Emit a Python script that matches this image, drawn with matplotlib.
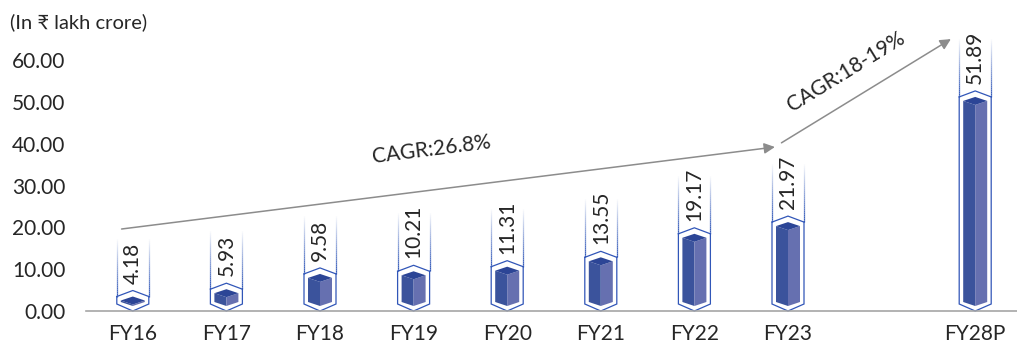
import numpy as np
import matplotlib.pyplot as plt
from matplotlib.patches import Polygon
from matplotlib.collections import LineCollection

years = ['FY16', 'FY17', 'FY18', 'FY19', 'FY20', 'FY21', 'FY22', 'FY23', 'FY28P']
values = [4.18, 5.93, 9.58, 10.21, 11.31, 13.55, 19.17, 21.97, 51.89]
slots = [0, 1, 2, 3, 4, 5, 6, 7, 9]   # one empty slot before the projection
cagr_text = ['CAGR:26.8%', 'CAGR:18-19%']

plt.rcParams['font.family'] = ['Lato', 'DejaVu Sans']
TXT = '#262626'
OUTLINE = '#3156b8'
LEFT = '#3b539c'
RIGHT = '#6670b0'
TOP = '#2c4596'

W, H = 1017, 345
fig = plt.figure(figsize=(W / 100, H / 100), dpi=100)
ax = fig.add_axes([86 / W, 34 / H, 936 / W, 251 / H])
ax.set_xlim(-0.5, 9.5)
ax.set_ylim(0, 60)

# pixel -> data unit helpers
sx = 10 / 936
sy = 60 / 251

for x, v in zip(slots, values):
    # outline capsule
    ohw = 16 * sx
    o_side = 7 * sy
    cap_apex = v + 3 * sy
    cap_side = v - 3 * sy
    ax.plot([x - ohw, x - ohw, x, x + ohw, x + ohw],
            [cap_side, o_side, 0, o_side, cap_side],
            color=OUTLINE, lw=0.9, solid_joinstyle='miter', clip_on=False, zorder=2)
    ax.plot([x - ohw, x, x + ohw], [cap_side, cap_apex, cap_side],
            color=OUTLINE, lw=0.9, clip_on=False, zorder=2)
    # fading side lines above the cap
    n = 30
    ys = np.linspace(cap_side, cap_side + 60 * sy, n + 1)
    for side in (-ohw, ohw):
        segs = [[(x + side, ys[i]), (x + side, ys[i + 1])] for i in range(n)]
        cols = [(0.19, 0.34, 0.72, a) for a in np.linspace(1, 0, n)]
        ax.add_collection(LineCollection(segs, colors=cols, lw=0.9, clip_on=False, zorder=2))

    # the 3d bar
    hw = 12 * sx
    dh = 4 * sy
    top = v - 3 * sy
    bot = 5 * sy
    ax.add_patch(Polygon([(x - hw, top - dh), (x, top - 2 * dh), (x, bot), (x - hw, bot + dh)],
                         closed=True, fc=LEFT, ec='none', zorder=3))
    ax.add_patch(Polygon([(x, top - 2 * dh), (x + hw, top - dh), (x + hw, bot + dh), (x, bot)],
                         closed=True, fc=RIGHT, ec='none', zorder=3))
    ax.add_patch(Polygon([(x, top), (x + hw, top - dh), (x, top - 2 * dh), (x - hw, top - dh)],
                         closed=True, fc=TOP, ec='none', zorder=4))

    ax.annotate(f'{v:.2f}', (x, cap_apex), xytext=(0, 5), textcoords='offset points',
                rotation=90, ha='center', va='bottom', fontsize=15, color=TXT,
                annotation_clip=False, zorder=5)

# CAGR arrows
arrow = dict(arrowstyle='-|>', color='#8c8c8c', lw=1.1, mutation_scale=16,
             shrinkA=0, shrinkB=0)
ax.annotate('', xy=(6.86, 39.2), xytext=(-0.12, 19.6), arrowprops=arrow, annotation_clip=False)
ax.annotate('', xy=(8.74, 65.0), xytext=(6.93, 40.2), arrowprops=arrow, annotation_clip=False)
ax.text(3.19, 38.5, cagr_text[0], rotation=7.2, rotation_mode='anchor',
        ha='center', va='center', fontsize=15, color=TXT)
ax.text(7.62, 57.1, cagr_text[1], rotation=31.6, rotation_mode='anchor',
        ha='center', va='center', fontsize=15, color=TXT, clip_on=False)

ax.set_yticks(range(0, 61, 10))
ax.set_yticklabels([f'{t:.2f}' for t in range(0, 61, 10)])
ax.set_xticks(slots)
ax.set_xticklabels(years)
ax.tick_params(axis='both', length=0, labelsize=15, labelcolor=TXT)
ax.tick_params(axis='y', pad=15)
ax.tick_params(axis='x', pad=9)
for s in ['top', 'right', 'left']:
    ax.spines[s].set_visible(False)
ax.spines['bottom'].set_color('#a6a6a6')
ax.spines['bottom'].set_linewidth(1.2)

fig.text(10 / W, 1 - 22 / H, '(In ₹ lakh crore)', ha='left', va='center',
         fontsize=14.5, color=TXT)

fig.savefig('out.png', dpi=100)
